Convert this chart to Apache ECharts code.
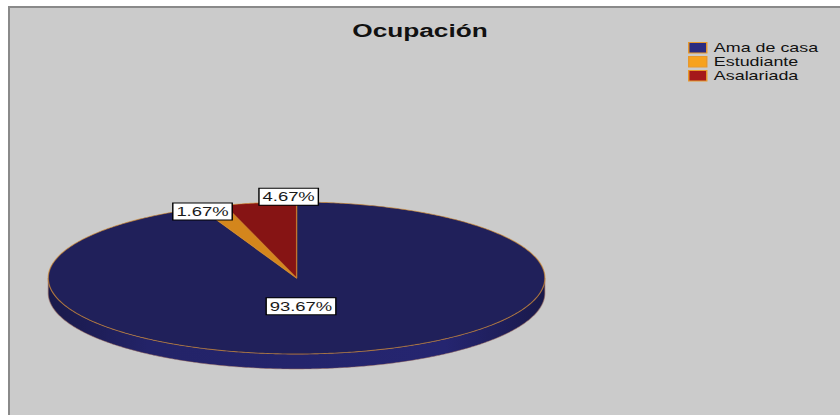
<!DOCTYPE html>
<html><head><meta charset="utf-8">
<script src="https://cdn.jsdelivr.net/npm/echarts@6/dist/echarts.min.js"></script>
<style>
html,body{margin:0;padding:0;background:#fff;width:840px;height:415px;overflow:hidden;}
#frame{position:absolute;left:8px;top:6px;width:832px;height:409px;background:#cbcbcb;border-left:2px solid #8a8a8a;border-top:2px solid #8a8a8a;box-sizing:border-box;}
#chart{position:absolute;left:0;top:0;width:592px;height:415px;transform:scaleX(1.41892);transform-origin:0 0;}
</style></head>
<body><div id="frame"></div><div id="chart"></div>
<script>
// ---- data ----
const titleText = 'Ocupación';
const categories = ['Ama de casa', 'Estudiante', 'Asalariada'];
const values = [281, 5, 14];

// ---- styles / layout ----
const faceColors = ['#20205a', '#d4861c', '#861414'];
const legendColors = ['#2b2b80', '#f7a21e', '#a5191a'];
const EDGE = 'rgba(214,140,44,0.65)';
const CX = 209, CY = 278, RX = 175, RY = 76, DEPTH = 15;
const LABEL_NUDGE = [[-10, 0], [-7, 5], [20, -6]];

const total = values.reduce((a, b) => a + b, 0);
const pct = v => (v / total * 100).toFixed(2) + '%';

function pt(t, dy, f) {
  f = f == null ? 1 : f;
  return [CX + RX * f * Math.sin(t), CY - RY * f * Math.cos(t) + (dy || 0)];
}

function makeRenderItem(k) {
  return function (params, api) {
    const v = api.value(0);
    let before = 0;
    for (let i = 0; i < k; i++) before += values[i];
    const a0 = before / total * 2 * Math.PI;
    const a1 = (before + v) / total * 2 * Math.PI;
    const children = [];
    // side (rim) visible in the front half
    const r0 = Math.max(a0, Math.PI / 2), r1 = Math.min(a1, 3 * Math.PI / 2);
    if (r1 > r0) {
      const side = [];
      const m = Math.max(2, Math.ceil((r1 - r0) / 0.01));
      for (let i = 0; i <= m; i++) side.push(pt(r0 + (r1 - r0) * i / m));
      for (let i = m; i >= 0; i--) side.push(pt(r0 + (r1 - r0) * i / m, DEPTH));
      children.push({
        type: 'polygon', z2: 1, shape: { points: side },
        style: {
          fill: new echarts.graphic.LinearGradient(0, 0, 1, 0, [
            { offset: 0, color: '#19194a' },
            { offset: 0.2, color: '#232368' },
            { offset: 0.8, color: '#252570' },
            { offset: 1, color: '#19194a' }
          ]),
          stroke: 'rgba(150,100,90,0.55)', lineWidth: 0.8
        }
      });
    }
    // top face
    const top = [[CX, CY]];
    const n = Math.max(2, Math.ceil((a1 - a0) / 0.01));
    for (let i = 0; i <= n; i++) top.push(pt(a0 + (a1 - a0) * i / n));
    children.push({
      type: 'polygon', z2: 5, shape: { points: top },
      style: { fill: faceColors[k], stroke: EDGE, lineWidth: 0.9, lineJoin: 'round' }
    });
    // label
    const mid = (a0 + a1) / 2;
    const frac = v / total;
    const p = frac > 0.5 ? pt(mid, 0, 0.38) : pt(mid, 0, 1);
    children.push({
      type: 'text', z2: 10,
      style: {
        text: pct(v),
        x: p[0] + LABEL_NUDGE[k][0], y: p[1] + LABEL_NUDGE[k][1],
        align: 'center', verticalAlign: 'middle',
        fill: '#1a1a1a', fontSize: 13, fontFamily: 'Liberation Sans, Arial, sans-serif',
        lineHeight: 14,
        backgroundColor: '#ffffff', borderColor: '#000000', borderWidth: 1,
        padding: [1, 2, 1, 2]
      }
    });
    return { type: 'group', children: children };
  };
}

const chart = echarts.init(document.getElementById('chart'), null, { renderer: 'svg', width: 592, height: 415 });
chart.setOption({
  animation: false,
  backgroundColor: 'transparent',
  title: {
    text: titleText, left: 'center', top: 20, padding: 0,
    textStyle: { fontSize: 18.5, fontWeight: 'bold', color: '#111', fontFamily: 'Liberation Sans, Arial, sans-serif', lineHeight: 20 }
  },
  legend: {
    orient: 'vertical', left: 484.9, top: 40.7, padding: 0,
    itemWidth: 12.7, itemHeight: 10.5, itemGap: 0, icon: 'rect', selectedMode: false,
    textStyle: { fontSize: 12.6, color: '#111', fontFamily: 'Liberation Sans, Arial, sans-serif', lineHeight: 14 },
    data: categories.map((c, i) => ({ name: c, itemStyle: { color: legendColors[i], borderColor: '#e8982a', borderWidth: 1 } }))
  },
  series: categories.map((c, k) => ({
    type: 'custom', name: c, coordinateSystem: 'none', silent: true,
    itemStyle: { color: faceColors[k] },
    renderItem: makeRenderItem(k),
    data: [values[k]]
  }))
});
</script>
</body></html>
